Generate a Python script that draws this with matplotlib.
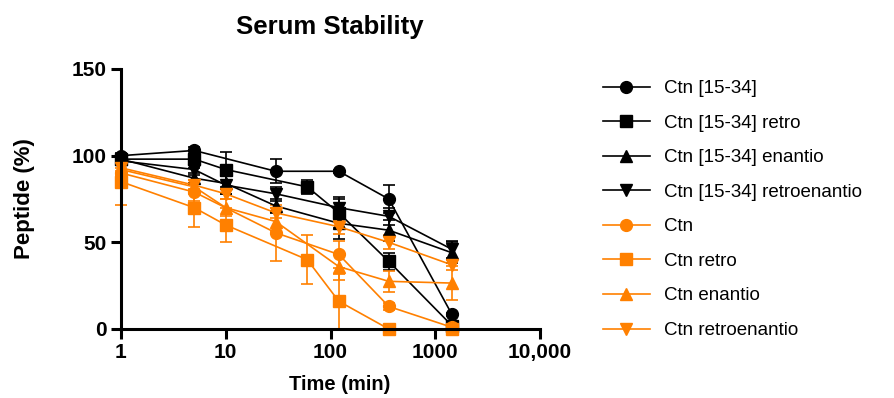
import matplotlib
matplotlib.use("Agg")
import matplotlib.pyplot as plt
from matplotlib.lines import Line2D
from matplotlib.ticker import FixedLocator, FixedFormatter, NullLocator

plt.rcParams['font.family'] = ['Liberation Sans', 'DejaVu Sans']

BLACK = "#000000"
ORANGE = "#FF8000"

# Time points (min)
t_circ = [1, 5, 30, 120, 360, 1440]
t_sq = [1, 5, 10, 60, 120, 360, 1440]
t_tri = [1, 5, 10, 30, 120, 360, 1440]

# Ctn [15-34] family (black)
ctn1534 = [100, 103, 91, 91, 75, 8.5]
ctn1534_err = [1.5, 2, 7, 1, 8, 1]
ctn1534_retro = [98, 98, 92, 82, 67, 39, 2]
ctn1534_retro_err = [2, 5, 10, 4, 9, 5, 1]
ctn1534_enan = [98, 87, 84, 71, 61, 57, 44]
ctn1534_enan_err = [2, 3, 6, 4, 9, 6, 6]
ctn1534_reen = [97, 92, 83, 78, 70, 65, 46]
ctn1534_reen_err = [2, 3, 5, 4, 5, 5, 5]

# Ctn family (orange)
ctn = [90, 79, 55.5, 43, 13, 1]
ctn_err = [3, 5, 16, 8, 2, 1]
ctn_retro = [85, 70, 60, 40, 16, 0, 0]
ctn_retro_err = [13.5, 11, 10, 14, 16, 0, 0]
ctn_enan = [92, 82, 70, 62, 36, 27.5, 26.5]
ctn_enan_err = [3, 4, 5, 6, 8, 6, 10]
ctn_reen = [93, 83, 78, 67, 59, 50, 37]
ctn_reen_err = [2, 3, 3, 3, 4, 4, 3]

labels = ["Ctn [15-34]", "Ctn [15-34] retro", "Ctn [15-34] enantio",
          "Ctn [15-34] retroenantio", "Ctn", "Ctn retro", "Ctn enantio",
          "Ctn retroenantio"]

series = [
    (t_circ, ctn1534, ctn1534_err, BLACK, 'o', 8.5),
    (t_sq, ctn1534_retro, ctn1534_retro_err, BLACK, 's', 8.0),
    (t_tri, ctn1534_enan, ctn1534_enan_err, BLACK, '^', 8.5),
    (t_tri, ctn1534_reen, ctn1534_reen_err, BLACK, 'v', 8.5),
    (t_circ, ctn, ctn_err, ORANGE, 'o', 8.5),
    (t_sq, ctn_retro, ctn_retro_err, ORANGE, 's', 8.0),
    (t_tri, ctn_enan, ctn_enan_err, ORANGE, '^', 8.5),
    (t_tri, ctn_reen, ctn_reen_err, ORANGE, 'v', 8.5),
]

fig = plt.figure(figsize=(8.95, 3.98), dpi=100)
ax = fig.add_axes([121/895, 1-329/398, (540-121)/895, (329-69)/398])

handles = []
for (t, v, e, c, m, ms), lab in zip(series, labels):
    ax.errorbar(t, v, yerr=e, color=c, marker=m, markersize=ms,
                linewidth=1.2, elinewidth=1.2, capsize=4.5, capthick=1.2,
                clip_on=False)
    handles.append(Line2D([], [], color=c, marker=m, markersize=ms, linewidth=1.2))

ax.set_xscale('log')
ax.set_xlim(1, 10000)
ax.set_ylim(0, 150)
ax.xaxis.set_major_locator(FixedLocator([1, 10, 100, 1000, 10000]))
ax.xaxis.set_major_formatter(FixedFormatter(["1", "10", "100", "1000", "10,000"]))
ax.xaxis.set_minor_locator(NullLocator())
ax.yaxis.set_major_locator(FixedLocator([0, 50, 100, 150]))

for s in ['top', 'right']:
    ax.spines[s].set_visible(False)
for s in ['left', 'bottom']:
    ax.spines[s].set_linewidth(2.2)
ax.tick_params(axis='both', which='major', direction='out', length=7, width=2.2,
               labelsize=15, pad=3)
for lbl in ax.get_xticklabels() + ax.get_yticklabels():
    lbl.set_fontweight('bold')

ax.set_xlabel("Time (min)", fontsize=14.5, fontweight='bold')
ax.xaxis.set_label_coords((340-121)/(540-121), -(385-329)/(329-69), transform=ax.transAxes)
ax.xaxis.label.set_va('center')
ax.set_ylabel("Peptide (%)", fontsize=16, fontweight='bold')
ax.yaxis.set_label_coords(-(121-25)/(540-121), (329-199)/(329-69), transform=ax.transAxes)
ax.yaxis.label.set_va('center')
fig.text(330/895, 1-27/398, "Serum Stability", fontsize=18.5, fontweight='bold',
         ha='center', va='center')

leg = fig.legend(handles=handles, labels=labels, loc='upper left',
                 bbox_to_anchor=(603/895, 1-80/398), frameon=False,
                 fontsize=13.5, handlelength=2.5, labelspacing=0.93,
                 handletextpad=0.75, borderaxespad=0, borderpad=0)

fig.savefig("out.png", dpi=100)
